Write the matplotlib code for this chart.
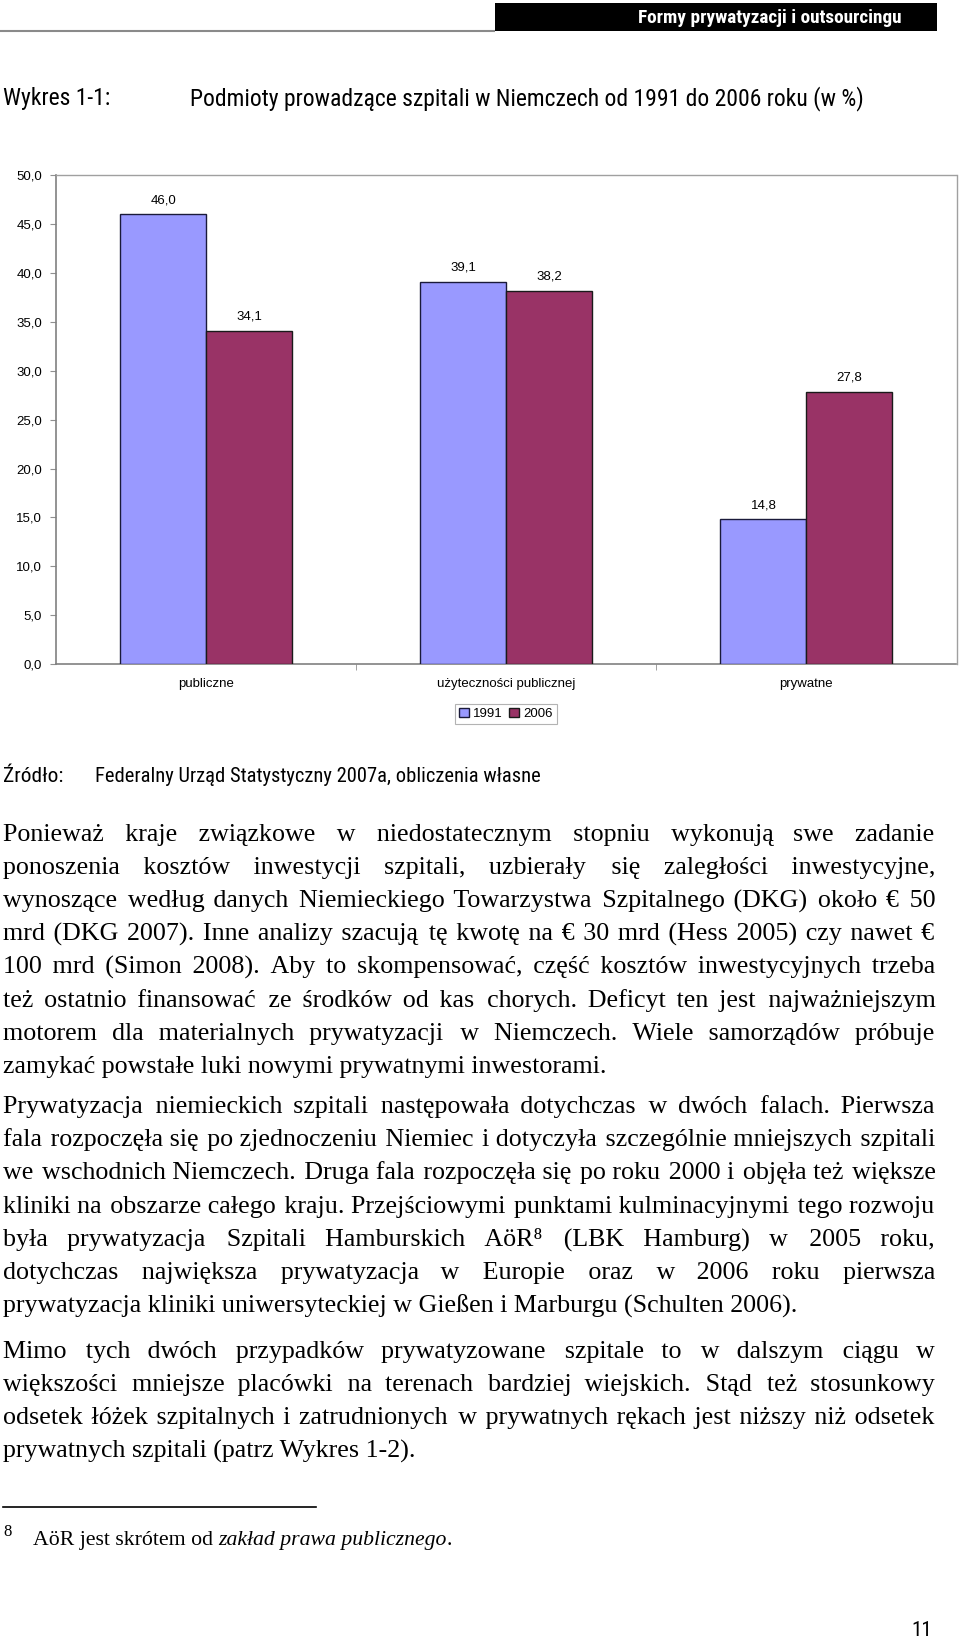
import os
import matplotlib
matplotlib.use("Agg")
import matplotlib.pyplot as plt
from matplotlib import font_manager
from matplotlib.font_manager import FontProperties
from matplotlib.patches import Rectangle, Patch

# ---------------- data ----------------
categories = ["publiczne", "użyteczności publicznej", "prywatne"]
series_names = ["1991", "2006"]
values_1991 = [46.0, 39.1, 14.8]
values_2006 = [34.1, 38.2, 27.8]
y_ticks = [0, 5, 10, 15, 20, 25, 30, 35, 40, 45, 50]

header_text = "Formy prywatyzacji i outsourcingu"
title_label = "Wykres 1-1:"
title_text = "Podmioty prowadzące szpitali w Niemczech od 1991 do 2006 roku (w %)"
source_label = "Źródło:"
source_text = "Federalny Urząd Statystyczny 2007a, obliczenia własne"

paragraphs = [
    ["Ponieważ kraje związkowe w niedostatecznym stopniu wykonują swe zadanie",
     "ponoszenia kosztów inwestycji szpitali, uzbierały się zaległości inwestycyjne,",
     "wynoszące według danych Niemieckiego Towarzystwa Szpitalnego (DKG) około € 50",
     "mrd (DKG 2007). Inne analizy szacują tę kwotę na € 30 mrd (Hess 2005) czy nawet €",
     "100 mrd (Simon 2008). Aby to skompensować, część kosztów inwestycyjnych trzeba",
     "też ostatnio finansować ze środków od kas chorych. Deficyt ten jest najważniejszym",
     "motorem dla materialnych prywatyzacji w Niemczech. Wiele samorządów próbuje",
     "zamykać powstałe luki nowymi prywatnymi inwestorami."],
    ["Prywatyzacja niemieckich szpitali następowała dotychczas w dwóch falach. Pierwsza",
     "fala rozpoczęła się po zjednoczeniu Niemiec i dotyczyła szczególnie mniejszych szpitali",
     "we wschodnich Niemczech. Druga fala rozpoczęła się po roku 2000 i objęła też większe",
     "kliniki na obszarze całego kraju. Przejściowymi punktami kulminacyjnymi tego rozwoju",
     "była prywatyzacja Szpitali Hamburskich AöR\u2078 (LBK Hamburg) w 2005 roku,",
     "dotychczas największa prywatyzacja w Europie oraz w 2006 roku pierwsza",
     "prywatyzacja kliniki uniwersyteckiej w Gießen i Marburgu (Schulten 2006)."],
    ["Mimo tych dwóch przypadków prywatyzowane szpitale to w dalszym ciągu w",
     "większości mniejsze placówki na terenach bardziej wiejskich. Stąd też stosunkowy",
     "odsetek łóżek szpitalnych i zatrudnionych w prywatnych rękach jest niższy niż odsetek",
     "prywatnych szpitali (patrz Wykres 1-2)."],
]
footnote_mark = "8"
footnote_parts = [("AöR jest skrótem od ", "normal"), ("zakład prawa publicznego", "italic"), (".", "normal")]
page_number = "11"

# ---------------- fonts ----------------
names = {f.name for f in font_manager.fontManager.ttflist}
SANS = "Liberation Sans" if "Liberation Sans" in names else "DejaVu Sans"
SERIF = "Liberation Serif" if "Liberation Serif" in names else "DejaVu Serif"
plt.rcParams["font.family"] = [SANS, "DejaVu Sans"]


def find_narrow(bold):
    prefs = ["liberationsansnarrow", "robotocondensed", "dejavusanscondensed",
             "opensanscondensed", "notosanscondensed", "opensans_condensed"]
    files = [f.fname for f in font_manager.fontManager.ttflist]
    for p in prefs:
        for fn in files:
            b = os.path.basename(fn).lower().replace("-", "").replace(" ", "")
            if not b.startswith(p):
                continue
            rest = b[len(p):]
            if "italic" in rest or "oblique" in rest:
                continue
            isbold = "bold" in rest and "semibold" not in rest and "extrabold" not in rest
            if bold and isbold:
                return fn
            if not bold and rest in ("regular.ttf", ".ttf", "regular.otf"):
                return fn
    return None


nreg = find_narrow(False)
nbold = find_narrow(True)


def narrow_fp(bold=False):
    fn = nbold if bold else nreg
    if fn:
        return FontProperties(fname=fn)
    return FontProperties(family=SANS, weight="bold" if bold else "normal")


W, H = 960, 1642
fig = plt.figure(figsize=(W / 100, H / 100), dpi=100)
fig.patch.set_facecolor("white")

page = fig.add_axes([0, 0, 1, 1], zorder=0)
page.set_xlim(0, W)
page.set_ylim(H, 0)
page.axis("off")

fig.canvas.draw()
renderer = fig.canvas.get_renderer()


def fitted_text(x, y, s, fp, target_w, **kw):
    fp = fp.copy()
    fp.set_size(12)
    t = page.text(x, y, s, fontproperties=fp, **kw)
    w = t.get_window_extent(renderer).width
    fp2 = fp.copy()
    fp2.set_size(12 * target_w / w)
    t.set_fontproperties(fp2)
    return t


# header
page.add_patch(Rectangle((495, 3), 442, 28, facecolor="black", edgecolor="none"))
page.plot([0, 495], [31, 31], color="#8a8a8a", lw=1.5, solid_capstyle="butt")
fitted_text(902, 18, header_text, narrow_fp(True), 265, color="white",
            ha="right", va="center")

# title
fitted_text(3, 99, title_label, narrow_fp(False), 107, ha="left", va="center")
fitted_text(190, 99, title_text, narrow_fp(False), 673, ha="left", va="center")

# source
fitted_text(3, 777, source_label, narrow_fp(False), 60, ha="left", va="center")
fitted_text(95, 777, source_text, narrow_fp(False), 444, ha="left", va="center")

# page number
pn_fp = narrow_fp(False).copy()
pn_fp.set_size(15)
page.text(932, 1631, page_number, fontproperties=pn_fp, ha="right", va="center")

# ---------------- chart ----------------
x0, x1 = 56, 956.5
y_top, y_zero = 175.3, 664
ax = fig.add_axes([x0 / W, 1 - y_zero / H, (x1 - x0) / W, (y_zero - y_top) / H], zorder=2)
ax.set_facecolor("none")
xs = list(range(len(categories)))
bw = 0.2865
col_1991 = "#9999FF"
col_2006 = "#993366"
b1 = ax.bar([x - bw / 2 for x in xs], values_1991, width=bw, color=col_1991,
            edgecolor="#1a1a3a", linewidth=1.0, zorder=3)
b2 = ax.bar([x + bw / 2 for x in xs], values_2006, width=bw, color=col_2006,
            edgecolor="#1a1a1a", linewidth=1.0, zorder=3)
fmt = lambda v: f"{v:.1f}".replace(".", ",")
ax.bar_label(b1, labels=[fmt(v) for v in values_1991], padding=6, fontsize=9.5)
ax.bar_label(b2, labels=[fmt(v) for v in values_2006], padding=6, fontsize=9.5)

ax.set_xlim(-0.5, len(categories) - 0.5)
ax.set_ylim(0, 50)
ax.set_yticks(y_ticks)
ax.set_yticklabels([fmt(v) for v in y_ticks], fontsize=9.5)
ax.set_xticks(xs)
ax.set_xticklabels(categories, fontsize=9.5)
ax.set_xticks([0.5, 1.5], minor=True)
ax.tick_params(axis="x", which="major", length=0, pad=10)
ax.tick_params(axis="x", which="minor", length=4, color="#909090", direction="out")
ax.tick_params(axis="y", length=4, color="#909090", pad=6)
for s in ["top", "right"]:
    ax.spines[s].set_color("#a0a0a0")
    ax.spines[s].set_linewidth(1.0)
for s in ["left", "bottom"]:
    ax.spines[s].set_color("#808080")
    ax.spines[s].set_linewidth(1.2)

handles = [Patch(facecolor=col_1991, edgecolor="#1a1a3a"), Patch(facecolor=col_2006, edgecolor="#1a1a1a")]
leg = fig.legend(handles, series_names, loc="center", bbox_to_anchor=(506 / W, 1 - 714 / H),
                 ncol=2, fontsize=9.5, frameon=True, fancybox=False, handlelength=0.75,
                 handleheight=0.75, handletextpad=0.3, columnspacing=0.5, borderpad=0.3,
                 borderaxespad=0)
leg.get_frame().set_edgecolor("#a0a0a0")
leg.get_frame().set_linewidth(0.8)

# ---------------- body text (justified, one text object per line) ----------------
BODY_FS = 18.7
BODY_FAM = [SERIF, "DejaVu Serif"]
LEFT, RIGHT = 3, 935
LINE_H = 33.2
para_y0 = [840.7, 1112.9, 1357.9]
HAIR = "\u200a"


def width(s, fs=BODY_FS, **kw):
    t = page.text(0, 0, s, fontsize=fs, family=BODY_FAM, **kw)
    w = t.get_window_extent(renderer).width
    t.remove()
    return w


hair_adv = width("a" + HAIR * 10 + "a") / 10 - width("aa") / 10
if not (0.3 < hair_adv < 7):
    HAIR = "\u2009"
    hair_adv = (width("a" + HAIR * 10 + "a") - width("aa")) / 10
space_adv = width("a a") - width("aa")


def justify(line):
    words = line.split(" ")
    ww = [width(w) for w in words]
    g = (RIGHT - LEFT - sum(ww)) / (len(words) - 1)
    s = words[0]
    for i in range(1, len(words)):
        target_end = sum(ww[:i + 1]) + i * g
        cur = width(s)
        k0 = int(round((target_end - cur - ww[i] - space_adv) / hair_adv))
        best = None
        for k in (k0 - 1, k0, k0 + 1):
            if k < 0:
                continue
            cand = s + " " + HAIR * k + words[i]
            err = abs(width(cand) - target_end)
            if best is None or err < best[0]:
                best = (err, cand)
        s = best[1]
    return s


for p_idx, lines in enumerate(paragraphs):
    y = para_y0[p_idx]
    for l_idx, line in enumerate(lines):
        last = (l_idx == len(lines) - 1)
        s = line if last else justify(line)
        page.text(LEFT, y, s, fontsize=BODY_FS, family=BODY_FAM, ha="left", va="baseline")
        y += LINE_H

# footnote
page.plot([3, 316], [1507.5, 1507.5], color="black", lw=1.2)
FN_FS = 15.7
page.text(3, 1536, footnote_mark, fontsize=12, family=BODY_FAM, ha="left", va="baseline")
fx = 33
for txt, style in footnote_parts:
    t = page.text(fx, 1545, txt, fontsize=FN_FS, family=BODY_FAM, style=style,
                  ha="left", va="baseline")
    fx += t.get_window_extent(renderer).width

fig.savefig("out.png", dpi=100, facecolor="white")
